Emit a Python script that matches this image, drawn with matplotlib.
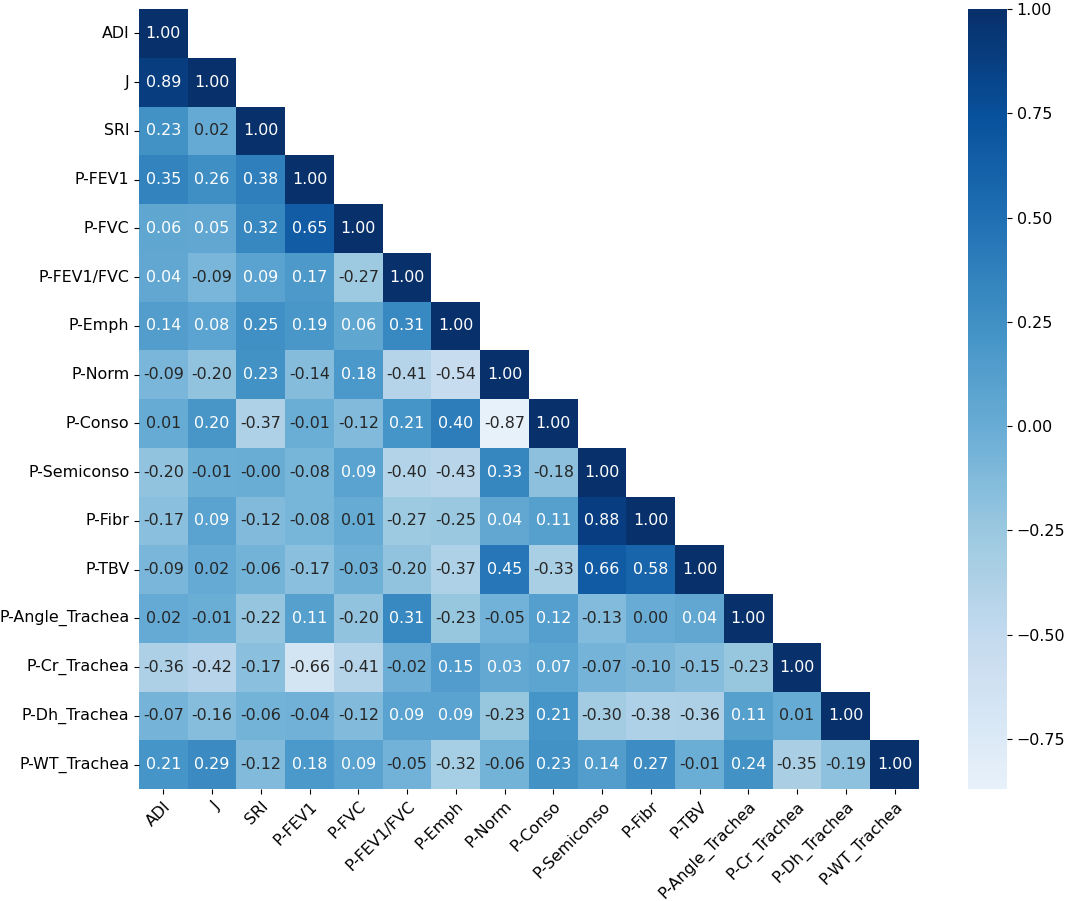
import numpy as np
import matplotlib
matplotlib.use('Agg')
import matplotlib.pyplot as plt
from matplotlib.colors import LinearSegmentedColormap
import seaborn as sns
from seaborn.utils import relative_luminance

plt.rcParams['font.family'] = ['DejaVu Sans']

labels = ['ADI', 'J', 'SRI', 'P-FEV1', 'P-FVC', 'P-FEV1/FVC', 'P-Emph', 'P-Norm',
          'P-Conso', 'P-Semiconso', 'P-Fibr', 'P-TBV', 'P-Angle_Trachea',
          'P-Cr_Trachea', 'P-Dh_Trachea', 'P-WT_Trachea']

# lower triangle, row by row (diagonal included)
rows = [
    [1.00],
    [0.89, 1.00],
    [0.23, 0.02, 1.00],
    [0.35, 0.26, 0.38, 1.00],
    [0.06, 0.05, 0.32, 0.65, 1.00],
    [0.04, -0.09, 0.09, 0.17, -0.27, 1.00],
    [0.14, 0.08, 0.25, 0.19, 0.06, 0.31, 1.00],
    [-0.09, -0.20, 0.23, -0.14, 0.18, -0.41, -0.54, 1.00],
    [0.01, 0.20, -0.37, -0.01, -0.12, 0.21, 0.40, -0.87, 1.00],
    [-0.20, -0.01, -0.001, -0.08, 0.09, -0.40, -0.43, 0.33, -0.18, 1.00],
    [-0.17, 0.09, -0.12, -0.08, 0.01, -0.27, -0.25, 0.04, 0.11, 0.88, 1.00],
    [-0.09, 0.02, -0.06, -0.17, -0.03, -0.20, -0.37, 0.45, -0.33, 0.66, 0.58, 1.00],
    [0.02, -0.01, -0.22, 0.11, -0.20, 0.31, -0.23, -0.05, 0.12, -0.13, 0.00, 0.04, 1.00],
    [-0.36, -0.42, -0.17, -0.66, -0.41, -0.02, 0.15, 0.03, 0.07, -0.07, -0.10, -0.15, -0.23, 1.00],
    [-0.07, -0.16, -0.06, -0.04, -0.12, 0.09, 0.09, -0.23, 0.21, -0.30, -0.38, -0.36, 0.11, 0.01, 1.00],
    [0.21, 0.29, -0.12, 0.18, 0.09, -0.05, -0.32, -0.06, 0.23, 0.14, 0.27, -0.01, 0.24, -0.35, -0.19, 1.00],
]

n = len(labels)
corr = np.full((n, n), np.nan)
for i, r in enumerate(rows):
    corr[i, :len(r)] = r
    corr[:len(r), i] = r
mask = np.triu(np.ones((n, n), dtype=bool), k=1)

# Blues with the palest end cut off a little (the print looks slightly bluer)
base = plt.get_cmap('Blues')
cmap = LinearSegmentedColormap.from_list('blues_cut', base(np.linspace(0.08, 1.0, 256)))
vmin, vmax = np.nanmin(corr), np.nanmax(corr)

fig = plt.figure(figsize=(10.65, 9.01), dpi=100)
ax = fig.add_axes([0.1305, 0.1243, 0.7324, 0.8657])
cax = fig.add_axes([0.9089, 0.1243, 0.0366, 0.8657])

sns.heatmap(corr, mask=mask, annot=True, fmt='.2f', cmap=cmap, vmin=vmin, vmax=vmax,
            xticklabels=labels, yticklabels=labels, ax=ax, cbar_ax=cax,
            annot_kws={'fontsize': 11.4})

# text colour as plain Blues would give it
for t in ax.texts:
    x, y = t.get_position()
    v = corr[int(y), int(x)]
    lum = relative_luminance(base((v - vmin) / (vmax - vmin)))
    t.set_color('.15' if lum > 0.408 else 'w')

ax.tick_params(axis='both', labelsize=11.4)
plt.setp(ax.get_xticklabels(), rotation=45, ha='right', rotation_mode='anchor')
plt.setp(ax.get_yticklabels(), rotation=0)
cax.tick_params(labelsize=11.4)
cax.set_yticks([-0.75, -0.5, -0.25, 0.0, 0.25, 0.5, 0.75, 1.0])

fig.savefig('out.png', dpi=100)
